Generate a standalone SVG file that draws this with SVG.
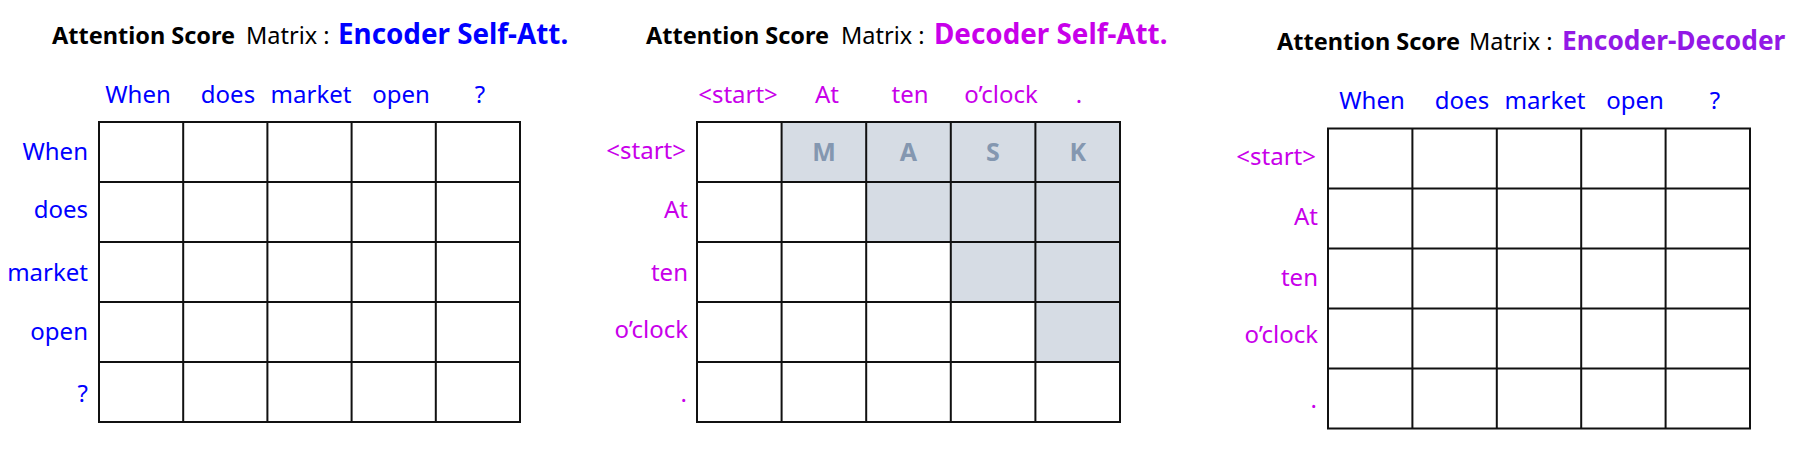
<svg xmlns="http://www.w3.org/2000/svg" width="1810" height="450" viewBox="0 0 1810 450">
<style>
text{font-family:"Noto Sans","Open Sans","Liberation Sans",sans-serif;}
.title{font-size:23.5px;fill:#000;}
.b{font-weight:bold;}
.big{font-weight:bold;font-size:27.8px;}
.lbl{font-size:24px;}
.enc{fill:#0000FF;}
.dec{fill:#C800EA;}
.ed{fill:#9318E6;}
.hd{text-anchor:middle;}
.rw{text-anchor:end;}
.grid{fill:none;stroke:#111;stroke-width:2;}
.mask{fill:#D6DCE4;stroke:none;}
.mk{font-weight:bold;font-size:25px;fill:#8497B0;text-anchor:middle;}
</style>
<rect width="1810" height="450" fill="#fff"/>

<g id="encoder-self-att">
  <text id="title1" class="title" y="44"><tspan class="b" x="52">Attention Score</tspan><tspan x="246">Matrix :</tspan><tspan class="big enc" x="338">Encoder Self-Att.</tspan></text>
  <g id="cols1" class="lbl enc hd">
    <text x="138" y="103">When</text>
    <text x="228" y="103">does</text>
    <text x="311" y="103">market</text>
    <text x="401" y="103">open</text>
    <text x="480" y="103">?</text>
  </g>
  <g id="rows1" class="lbl enc rw">
    <text x="88" y="160">When</text>
    <text x="88" y="218">does</text>
    <text x="88" y="281">market</text>
    <text x="88" y="340">open</text>
    <text x="88" y="402">?</text>
  </g>
  <path id="grid1" class="grid" d="M99,122H520V422H99Z M183.2,122V422 M267.4,122V422 M351.6,122V422 M435.8,122V422 M99,182H520 M99,242H520 M99,302H520 M99,362H520"/>
</g>

<g id="decoder-self-att">
  <text id="title2" class="title" y="44"><tspan class="b" x="646">Attention Score</tspan><tspan x="841">Matrix :</tspan><tspan class="big dec" x="934">Decoder Self-Att.</tspan></text>
  <path id="mask" class="mask" d="M781.6,122H1120V362H1035.4V302H950.8V242H866.2V182H781.6Z"/>
  <g id="mask-letters">
    <text class="mk" x="824" y="161">M</text>
    <text class="mk" x="908.5" y="161">A</text>
    <text class="mk" x="993" y="161">S</text>
    <text class="mk" x="1077.7" y="161">K</text>
  </g>
  <g id="cols2" class="lbl dec hd">
    <text x="738" y="103">&lt;start&gt;</text>
    <text x="827" y="103">At</text>
    <text x="910" y="103">ten</text>
    <text x="1001" y="103">o’clock</text>
    <text x="1079" y="103">.</text>
  </g>
  <g id="rows2" class="lbl dec rw">
    <text x="686" y="159">&lt;start&gt;</text>
    <text x="688" y="218">At</text>
    <text x="688" y="281">ten</text>
    <text x="688" y="338">o’clock</text>
    <text x="687" y="402">.</text>
  </g>
  <path id="grid2" class="grid" d="M697,122H1120V422H697Z M781.6,122V422 M866.2,122V422 M950.8,122V422 M1035.4,122V422 M697,182H1120 M697,242H1120 M697,302H1120 M697,362H1120"/>
</g>

<g id="encoder-decoder">
  <text id="title3" class="title" y="50"><tspan class="b" x="1277">Attention Score</tspan><tspan x="1469">Matrix :</tspan><tspan class="big ed" x="1562" style="font-size:26.3px">Encoder-Decoder</tspan></text>
  <g id="cols3" class="lbl enc hd">
    <text x="1372" y="109">When</text>
    <text x="1462" y="109">does</text>
    <text x="1545" y="109">market</text>
    <text x="1635" y="109">open</text>
    <text x="1715" y="109">?</text>
  </g>
  <g id="rows3" class="lbl dec rw">
    <text x="1316" y="165">&lt;start&gt;</text>
    <text x="1318" y="225">At</text>
    <text x="1318" y="286">ten</text>
    <text x="1318" y="343">o’clock</text>
    <text x="1317" y="408">.</text>
  </g>
  <path id="grid3" class="grid" d="M1328,128.5H1750V428.5H1328Z M1412.4,128.5V428.5 M1496.8,128.5V428.5 M1581.2,128.5V428.5 M1665.6,128.5V428.5 M1328,188.5H1750 M1328,248.5H1750 M1328,308.5H1750 M1328,368.5H1750"/>
</g>
</svg>
